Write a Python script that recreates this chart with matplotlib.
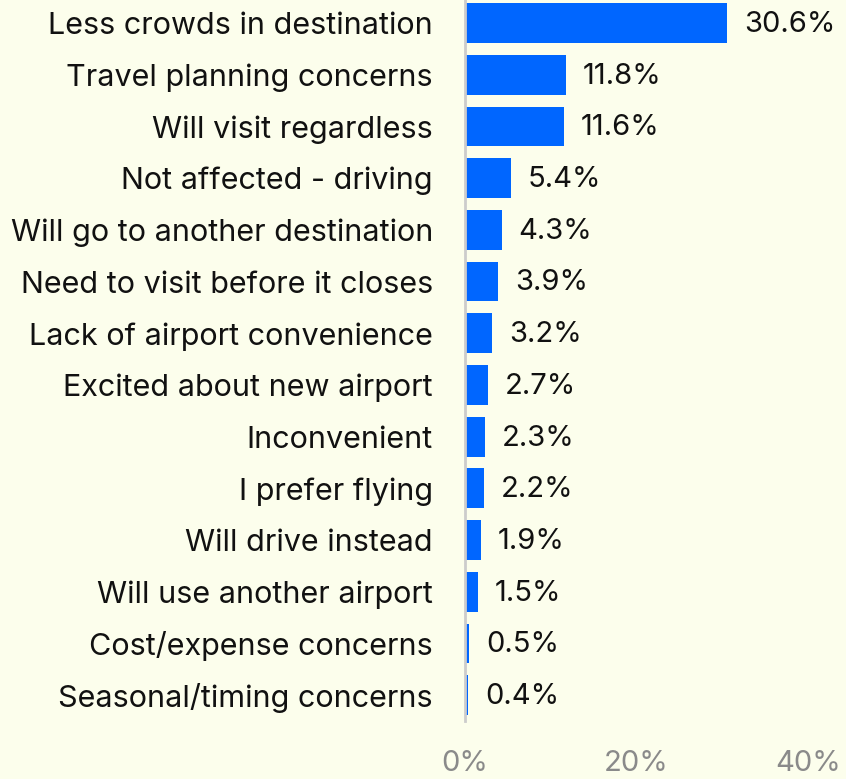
import matplotlib.pyplot as plt

reasons = ["Less crowds in destination", "Travel planning concerns", "Will visit regardless",
           "Not affected - driving", "Will go to another destination", "Need to visit before it closes",
           "Lack of airport convenience", "Excited about new airport", "Inconvenient",
           "I prefer flying", "Will drive instead", "Will use another airport",
           "Cost/expense concerns", "Seasonal/timing concerns"]
shares = [30.6, 11.8, 11.6, 5.4, 4.3, 3.9, 3.2, 2.7, 2.3, 2.2, 1.9, 1.5, 0.5, 0.4]
xticks = [0, 20, 40]

bg = "#fcfeec"
plt.rcParams['font.family'] = ['Inter', 'DejaVu Sans']

fig = plt.figure(figsize=(8.46, 7.79), dpi=100, facecolor=bg)
ax = fig.add_axes([0.5496, 0.0745, 0.4054, 0.929])
ax.set_facecolor(bg)

ypos = list(range(len(reasons)))
ax.barh(ypos, shares, height=0.77, color="#0066ff")
for y, v in zip(ypos, shares):
    ax.annotate(f"{v}%", (v, y), xytext=(12, -1), textcoords="offset points",
                va="center", ha="left", fontsize=21, color="#111111")

ax.set_xlim(0, 40)
ax.set_ylim(len(reasons) - 0.5, -0.5)
ax.set_yticks(ypos)
ax.set_yticklabels(reasons, fontsize=22, color="#111111")
ax.set_xticks(xticks)
ax.set_xticklabels([f"{t}%" for t in xticks], fontsize=21, color="#8a8a8a")
ax.tick_params(axis="both", length=0)
ax.tick_params(axis="y", pad=23)
ax.tick_params(axis="x", pad=21)
for s in ["top", "right", "bottom"]:
    ax.spines[s].set_visible(False)
ax.spines["left"].set_color("#cccccc")
ax.spines["left"].set_linewidth(2)

fig.savefig("out.png", facecolor=bg)
